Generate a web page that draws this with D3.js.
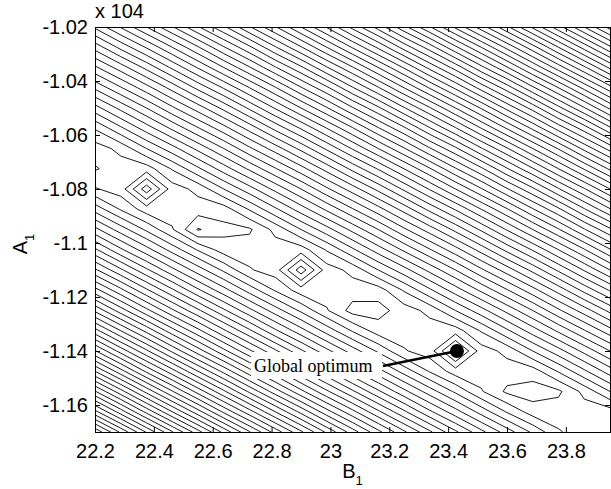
<!DOCTYPE html>
<html>
<head>
<meta charset="utf-8">
<script src="https://cdn.jsdelivr.net/npm/d3@7"></script>
<style>
  html, body { margin: 0; padding: 0; background: #fff; }
  svg { display: block; }
  .axis text { font-family: "Liberation Sans", Arial, Helvetica, sans-serif; font-size: 20px; fill: #000; }
  .axis line { stroke: #000; }
  .axis-label { font-family: "Liberation Sans", Arial, Helvetica, sans-serif; font-size: 20px; fill: #000; }
  .note { font-family: "Liberation Serif", "Times New Roman", serif; font-size: 18px; fill: #000; }
</style>
</head>
<body>
<svg id="chart" width="611" height="489"></svg>
<script>
// grid nodes: B1 across, A1 (x 10^4) down
const b1Nodes = [22.2, 22.2875, 22.375, 22.4625, 22.55, 22.6375, 22.725, 22.8125, 22.9, 22.9875, 23.075,
  23.1625, 23.25, 23.3375, 23.425, 23.5125, 23.6, 23.6875, 23.775, 23.8625, 23.95]
const a1Nodes = [-1.02, -1.0275, -1.035, -1.0425, -1.05, -1.0575, -1.065, -1.0725, -1.08, -1.0875, -1.095,
  -1.1025, -1.11, -1.1175, -1.125, -1.1325, -1.14, -1.1475, -1.155, -1.1625, -1.17]

// objective, in contour-level units, one row per A1 node
const zGrid = [
  [14.7, 16.6, 18.5, 20.4, 22.4, 24.3, 26.4, 28.4, 30.5, 32.6, 34.8, 36.9, 39.2, 41.4, 43.7, 46.0, 48.3, 50.7, 53.1, 55.5, 57.9],
  [11.9, 13.8, 15.6, 17.5, 19.4, 21.4, 23.3, 25.4, 27.4, 29.5, 31.6, 33.7, 35.9, 38.0, 40.3, 42.5, 44.8, 47.1, 49.5, 51.9, 54.3],
  [9.3, 11.0, 12.8, 14.7, 16.6, 18.5, 20.4, 22.4, 24.3, 26.4, 28.4, 30.5, 32.6, 34.8, 36.9, 39.2, 41.4, 43.7, 46.0, 48.3, 50.7],
  [6.7, 8.4, 10.1, 11.9, 13.8, 15.6, 17.5, 19.4, 21.4, 23.3, 25.4, 27.4, 29.5, 31.6, 33.7, 35.9, 38.0, 40.3, 42.5, 44.8, 47.1],
  [4.1, 5.8, 7.5, 9.3, 11.0, 12.8, 14.7, 16.6, 18.5, 20.4, 22.4, 24.3, 26.4, 28.4, 30.5, 32.6, 34.8, 36.9, 39.2, 41.4, 43.7],
  [1.6, 3.3, 5.0, 6.7, 8.4, 10.1, 11.9, 13.8, 15.6, 17.5, 19.4, 21.4, 23.3, 25.4, 27.4, 29.5, 31.6, 33.7, 35.9, 38.0, 40.3],
  [0, 0.8, 2.5, 4.1, 5.8, 7.5, 9.3, 11.0, 12.8, 14.7, 16.6, 18.5, 20.4, 22.4, 24.3, 26.4, 28.4, 30.5, 32.6, 34.8, 36.9],
  [-0.6, 0, 0, 1.6, 3.3, 5.0, 6.7, 8.4, 10.1, 11.9, 13.8, 15.6, 17.5, 19.4, 21.4, 23.3, 25.4, 27.4, 29.5, 31.6, 33.7],
  [0.6, 0, -3.1, 0, 0.8, 2.5, 4.1, 5.8, 7.5, 9.3, 11.0, 12.8, 14.7, 16.6, 18.5, 20.4, 22.4, 24.3, 26.4, 28.4, 30.5],
  [3.1, 1.4, 0, 0, 0, 0, 1.6, 3.3, 5.0, 6.7, 8.4, 10.1, 11.9, 13.8, 15.6, 17.5, 19.4, 21.4, 23.3, 25.4, 27.4],
  [5.8, 4.0, 2.3, 0.6, -1.6, -0.8, -0.65, 0.8, 2.5, 4.1, 5.8, 7.5, 9.3, 11.0, 12.8, 14.7, 16.6, 18.5, 20.4, 22.4, 24.3],
  [8.7, 6.7, 4.9, 3.1, 1.4, 0, 0, 0, 0, 1.6, 3.3, 5.0, 6.7, 8.4, 10.1, 11.9, 13.8, 15.6, 17.5, 19.4, 21.4],
  [11.7, 9.7, 7.7, 5.8, 4.0, 2.3, 0.6, 0, -3.1, 0, 0.8, 2.5, 4.1, 5.8, 7.5, 9.3, 11.0, 12.8, 14.7, 16.6, 18.5],
  [14.9, 12.8, 10.7, 8.7, 6.7, 4.9, 3.1, 1.4, 0, 0, 0, 0, 1.6, 3.3, 5.0, 6.7, 8.4, 10.1, 11.9, 13.8, 15.6],
  [18.3, 16.0, 13.8, 11.7, 9.7, 7.7, 5.8, 4.0, 2.3, 0.6, -0.9, -0.9, 0, 0.8, 2.5, 4.1, 5.8, 7.5, 9.3, 11.0, 12.8],
  [21.9, 19.5, 17.2, 14.9, 12.8, 10.7, 8.7, 6.7, 4.9, 3.1, 1.4, 0, 0, 0, 0, 1.6, 3.3, 5.0, 6.7, 8.4, 10.1],
  [25.6, 23.1, 20.7, 18.3, 16.0, 13.8, 11.7, 9.7, 7.7, 5.8, 4.0, 2.3, 0.6, 0, -3.1, 0, 0.8, 2.5, 4.1, 5.8, 7.5],
  [29.5, 26.9, 24.3, 21.9, 19.5, 17.2, 14.9, 12.8, 10.7, 8.7, 6.7, 4.9, 3.1, 1.4, 0, 0, 0, 0, 1.6, 3.3, 5.0],
  [33.6, 30.9, 28.2, 25.6, 23.1, 20.7, 18.3, 16.0, 13.8, 11.7, 9.7, 7.7, 5.8, 4.0, 2.3, 0.6, -0.7, -1.0, -0.7, 0.8, 2.5],
  [37.8, 35.0, 32.2, 29.5, 26.9, 24.3, 21.9, 19.5, 17.2, 14.9, 12.8, 10.7, 8.7, 6.7, 4.9, 3.1, 1.4, 0, 0, 0, 0],
  [42.3, 39.3, 36.4, 33.6, 30.9, 28.2, 25.6, 23.1, 20.7, 18.3, 16.0, 13.8, 11.7, 9.7, 7.7, 5.8, 4.0, 2.3, 0.6, 0, 0],
]

const contourLevels = d3.range(-2.5, 58, 1)

const xTicks = [22.2, 22.4, 22.6, 22.8, 23, 23.2, 23.4, 23.6, 23.8]
const xTickLabels = ['22.2', '22.4', '22.6', '22.8', '23', '23.2', '23.4', '23.6', '23.8']
const yTicks = [-1.02, -1.04, -1.06, -1.08, -1.1, -1.12, -1.14, -1.16]
const yTickLabels = ['-1.02', '-1.04', '-1.06', '-1.08', '-1.1', '-1.12', '-1.14', '-1.16']

const optimum = {b1: 23.43, a1: -1.14, label: 'Global optimum'}

const margins = {left: 95, top: 27, right: 1, bottom: 57}
const W = 611, H = 489
const svg = d3.select('#chart')

const x = d3.scaleLinear().domain([22.2, 23.95]).range([margins.left, W - margins.right])
const y = d3.scaleLinear().domain([-1.17, -1.02]).range([H - margins.bottom, margins.top])

svg.append('defs').append('clipPath').attr('id', 'plot-clip')
  .append('rect')
  .attr('x', x.range()[0]).attr('y', y.range()[1])
  .attr('width', x.range()[1] - x.range()[0] + 1)
  .attr('height', y.range()[0] - y.range()[1] + 1)

// contour coords are in grid units; sample k sits at k + 0.5
const nx = b1Nodes.length, ny = a1Nodes.length
const b1Step = b1Nodes[1] - b1Nodes[0]
const a1Step = a1Nodes[1] - a1Nodes[0]
const toPlot = d3.geoTransform({
  point(c, r) {
    this.stream.point(x(b1Nodes[0] + (c - 0.5) * b1Step), y(a1Nodes[0] + (r - 0.5) * a1Step))
  }
})
const path = d3.geoPath(toPlot)

const contours = d3.contours()
  .size([nx, ny])
  .thresholds(contourLevels)(zGrid.flat())

svg.append('g')
  .attr('clip-path', 'url(#plot-clip)')
  .selectAll('path')
  .data(contours)
  .join('path')
  .attr('d', path)
  .attr('fill', 'none')
  .attr('stroke', '#000')
  .attr('stroke-width', 0.9)

// annotation
const ox = x(optimum.b1), oy = y(optimum.a1)
const note = svg.append('g')
note.append('rect')
  .attr('x', ox - 206).attr('y', oy + 1)
  .attr('width', 131).attr('height', 27)
  .attr('fill', '#fff')
note.append('text')
  .attr('class', 'note')
  .attr('x', ox - 203).attr('y', oy + 21)
  .text(optimum.label)
note.append('line')
  .attr('x1', ox - 74).attr('y1', oy + 15)
  .attr('x2', ox).attr('y2', oy)
  .attr('stroke', '#000')
  .attr('stroke-width', 2.6)
note.append('circle')
  .attr('cx', ox).attr('cy', oy).attr('r', 7)
  .attr('fill', '#000')

// axes, MATLAB style ticks pointing in on all four sides
const tick = 5
svg.append('g')
  .attr('class', 'axis axis--x')
  .attr('transform', `translate(0, ${y.range()[0]})`)
  .call(d3.axisBottom(x).tickValues(xTicks).tickFormat((d, i) => xTickLabels[i])
    .tickSizeInner(-tick).tickSizeOuter(0).tickPadding(12))
svg.append('g')
  .attr('class', 'axis axis--x2')
  .attr('transform', `translate(0, ${y.range()[1]})`)
  .call(d3.axisTop(x).tickValues(xTicks).tickFormat('').tickSizeInner(-tick).tickSizeOuter(0))
svg.append('g')
  .attr('class', 'axis axis--y')
  .attr('transform', `translate(${x.range()[0]}, 0)`)
  .call(d3.axisLeft(y).tickValues(yTicks).tickFormat((d, i) => yTickLabels[i])
    .tickSizeInner(-tick).tickSizeOuter(0).tickPadding(7))
svg.append('g')
  .attr('class', 'axis axis--y2')
  .attr('transform', `translate(${x.range()[1]}, 0)`)
  .call(d3.axisRight(y).tickValues(yTicks).tickFormat('').tickSizeInner(-tick).tickSizeOuter(0))

svg.selectAll('.axis .domain').remove()
svg.selectAll('.axis').attr('font-size', null).attr('font-family', null)

svg.append('rect')
  .attr('x', x.range()[0] + 0.5).attr('y', y.range()[1] + 0.5)
  .attr('width', x.range()[1] - x.range()[0])
  .attr('height', y.range()[0] - y.range()[1])
  .attr('fill', 'none')
  .attr('stroke', '#000')
  .attr('stroke-width', 1)

svg.append('text')
  .attr('class', 'axis-label')
  .attr('x', x.range()[0])
  .attr('y', 18)
  .text('x 104')

const xLabel = svg.append('text')
  .attr('class', 'axis-label')
  .attr('x', (x.range()[0] + x.range()[1]) / 2)
  .attr('y', 478)
  .attr('text-anchor', 'middle')
xLabel.append('tspan').text('B')
xLabel.append('tspan').attr('font-size', 13).attr('dy', 7).text('1')

const yLabel = svg.append('text')
  .attr('class', 'axis-label')
  .attr('transform', 'translate(27, 244) rotate(-90)')
  .attr('text-anchor', 'middle')
yLabel.append('tspan').text('A')
yLabel.append('tspan').attr('font-size', 13).attr('dy', 7).text('1')
</script>
</body>
</html>
